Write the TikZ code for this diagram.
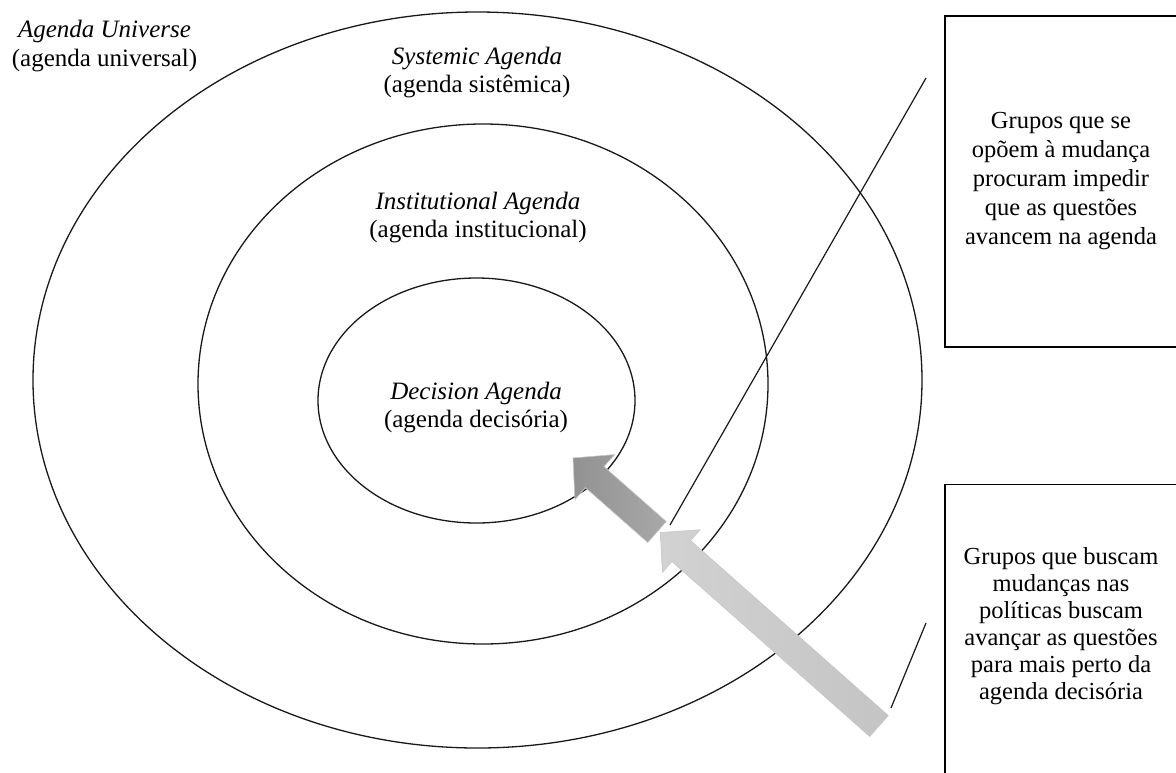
\documentclass[tikz,border=0pt]{standalone}
\usepackage{fontspec}
\setmainfont{Liberation Serif}
\usepackage{tikz}

\definecolor{darkarrow}{RGB}{146,146,146}
\definecolor{darkhead}{RGB}{168,168,168}
\definecolor{lightarrow}{RGB}{210,210,210}
\definecolor{lighthead}{RGB}{196,196,196}

\begin{document}
\begin{tikzpicture}[x=1pt,y=-1pt,
  ring/.style={line width=1.3pt,black!90},
  lbl/.style={align=center,font=\fontsize{25}{28.5}\selectfont},
  infobox/.style={draw,line width=1.3pt,minimum width=232pt,align=center,font=\fontsize{24.5}{29}\selectfont},
  blockarrow/.style={draw=black!22,line width=0.6pt}]
\useasboundingbox (0,0) rectangle (1176,772);
\draw[ring] (477.5,380) ellipse [x radius=444.5, y radius=368];
\draw[ring] (483,384) ellipse [x radius=285, y radius=260];
\draw[ring] (476.5,400.5) ellipse [x radius=158.5, y radius=122.5];
\node[lbl] (universe) at (104.5,46) {\textit{Agenda Universe}\\(agenda universal)};
\node[lbl] (systemic) at (477,72.5) {\textit{Systemic Agenda}\\(agenda sistêmica)};
\node[lbl] (institutional) at (478,217.5) {\textit{Institutional Agenda}\\(agenda institucional)};
\node[lbl] (decision) at (476,407.5) {\textit{Decision Agenda}\\(agenda decisória)};
\node[infobox,minimum height=331pt] (oppose) at (1061,181.5) {Grupos que se\\opõem à mudança\\procuram impedir\\que as questões\\avancem na agenda};
\node[infobox,minimum height=320pt,anchor=north] (push) at (1061,484) {};
\node[lbl,font=\fontsize{24.5}{27}\selectfont] (pushtext) at (1061,626) {Grupos que buscam\\mudanças nas\\políticas buscam\\avançar as questões\\para mais perto da\\agenda decisória};
\coordinate (oppA) at (926,78);
\coordinate (oppB) at (670,525);
\coordinate (pushA) at (926,623);
\coordinate (pushB) at (891,708);
\draw[line width=1.2pt,black!90] (oppA) -- (oppB);
\draw[line width=1.2pt,black!90] (pushA) -- (pushB);
\begin{scope}[shift={(879,726)},rotate=138.5]
\shade[blockarrow,left color=lightarrow,right color=lighthead] (0,14) -- (264,14) -- (264,28.5) -- (292,0) -- (264,-28.5) -- (264,-14) -- (0,-14) -- cycle;
\end{scope}
\begin{scope}[shift={(657,532)},rotate=138.6]
\shade[blockarrow,left color=darkarrow,right color=darkhead] (0,14) -- (83,14) -- (83,30) -- (112,0) -- (83,-30) -- (83,-14) -- (0,-14) -- cycle;
\end{scope}
\end{tikzpicture}
\end{document}
